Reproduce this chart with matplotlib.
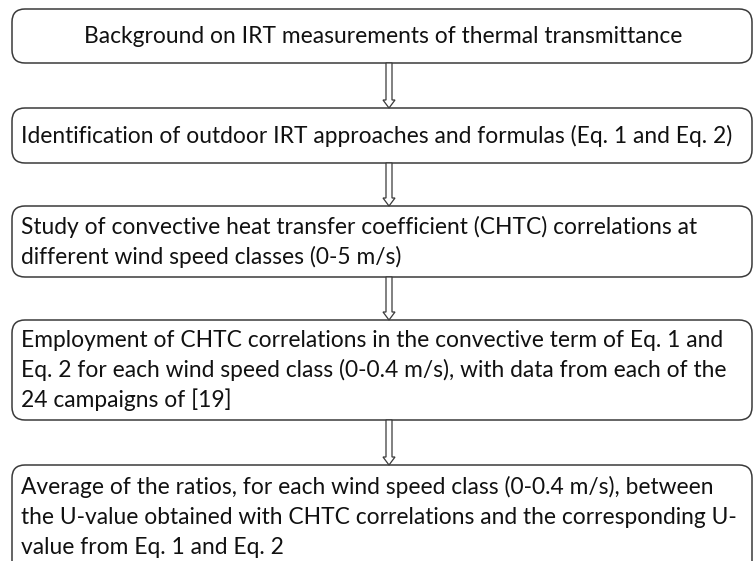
import matplotlib
matplotlib.use("Agg")
import matplotlib.pyplot as plt
from matplotlib.patches import FancyBboxPatch, FancyArrow

steps = [
    "Background on IRT measurements of thermal transmittance",
    "Identification of outdoor IRT approaches and formulas (Eq. 1 and Eq. 2)",
    "Study of convective heat transfer coefficient (CHTC) correlations at\ndifferent wind speed classes (0-5 m/s)",
    "Employment of CHTC correlations in the convective term of Eq. 1 and\nEq. 2 for each wind speed class (0-0.4 m/s), with data from each of the\n24 campaigns of [19]",
    "Average of the ratios, for each wind speed class (0-0.4 m/s), between\nthe U-value obtained with CHTC correlations and the corresponding U-\nvalue from Eq. 1 and Eq. 2",
]
box_top = [9, 108, 206, 320, 465]
box_bottom = [63, 163, 277, 420, 575]
centered = [True, False, False, False, False]

W, H = 753, 561
fig = plt.figure(figsize=(W / 100, H / 100), dpi=100)
ax = fig.add_axes([0, 0, 1, 1])
ax.set_xlim(0, W)
ax.set_ylim(H, 0)
ax.axis("off")

x0, x1 = 12, 752
ec = "#3a3a3a"
fs = 16.4
for i, txt in enumerate(steps):
    t, b = box_top[i], box_bottom[i]
    ax.add_patch(FancyBboxPatch((x0, t), x1 - x0, b - t,
                                boxstyle="round,pad=0,rounding_size=13",
                                fc="white", ec=ec, lw=1.1))
    lines = txt.split("\n")
    n = len(lines)
    lh = 30
    if i == 4:
        ys = [487, 517, 547]
    else:
        yc = (t + b) / 2
        ys = [yc + (k - (n - 1) / 2) * lh for k in range(n)]
    for k, line in enumerate(lines):
        if centered[i]:
            ax.text(383, ys[k], line, ha="center", va="center",
                    fontsize=fs, family="Lato", color="#111111")
        else:
            ax.text(21, ys[k], line, ha="left", va="center",
                    fontsize=fs, family="Lato", color="#111111")

# hollow arrows between boxes
for i in range(4):
    y_start = box_bottom[i]
    y_end = box_top[i + 1]
    ax.add_patch(FancyArrow(389, y_start, 0, y_end - y_start,
                            width=6, head_width=12, head_length=8,
                            length_includes_head=True,
                            fc="white", ec=ec, lw=0.9))

fig.savefig("out.png", dpi=100)
